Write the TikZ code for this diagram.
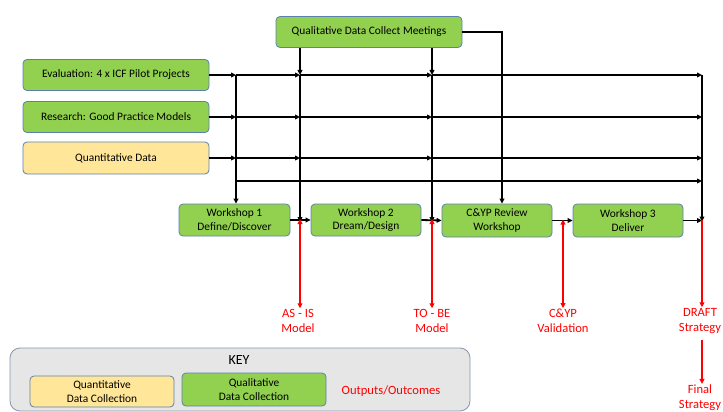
\documentclass[tikz,border=0pt]{standalone}
\usepackage{fontspec}
\setmainfont{Carlito}
\usetikzlibrary{arrows.meta}
\definecolor{boxgreen}{HTML}{92D050}
\definecolor{boxyellow}{HTML}{FFE699}
\definecolor{boxborder}{HTML}{5B80B0}
\definecolor{keygray}{HTML}{E7E6E6}
\definecolor{keyborder}{HTML}{8497B0}
\definecolor{outred}{HTML}{FF0000}
\tikzset{
  base/.style={rounded corners=4pt, draw=boxborder, line width=0.8pt, align=center,
    font=\fontsize{11.4}{13.6}\selectfont, inner sep=0pt},
  greenbox/.style={base, fill=boxgreen},
  yellowbox/.style={base, fill=boxyellow},
  wide/.style={minimum width=186pt, minimum height=31pt},
  wsbox/.style={minimum width=111pt, minimum height=32pt},
  arr/.style={line width=1.8pt, -{Triangle[length=5pt,width=4.8pt]}},
  redarr/.style={line width=1.8pt, draw=outred, -{Triangle[length=5pt,width=4.8pt]}},
  redboth/.style={line width=1.8pt, draw=outred, {Triangle[length=5pt,width=4.8pt]}-{Triangle[length=5pt,width=4.8pt]}},
  outlbl/.style={text=outred, align=center, font=\fontsize{12.6}{14.8}\selectfont, inner sep=1pt}
}
\begin{document}
\begin{tikzpicture}[x=1pt,y=-1pt]
\useasboundingbox (0,0) rectangle (723,412);
% source boxes
\node[greenbox, wide] (top) at (369,32) {Qualitative Data Collect Meetings};
\node[greenbox, wide] (ev) at (116,75) {Evaluation: 4 x ICF Pilot Projects};
\node[greenbox, wide] (rs) at (116,117) {Research: Good Practice Models};
\node[yellowbox, wide, minimum height=32pt] (qd) at (116,158) {Quantitative Data};
% workshops
\node[greenbox, wsbox, minimum width=111pt] (w1) at (234.5,220) {Workshop 1\\Define/Discover};
\node[greenbox, wsbox, minimum width=110pt] (w2) at (366,220) {Workshop 2\\Dream/Design};
\node[greenbox, wsbox, minimum width=110pt, minimum height=33pt] (cy) at (497,220.5) {C\&YP Review\\Workshop};
\node[greenbox, wsbox, minimum width=110pt, minimum height=33pt] (w3) at (628,220.5) {Workshop 3\\Deliver};
% junction coordinates
\foreach \r/\y in {1/75,2/117,3/158}{
  \coordinate (a\r) at (236,\y);
  \coordinate (b\r) at (300,\y);
  \coordinate (c\r) at (432,\y);
  \coordinate (d\r) at (702,\y);
}
\coordinate (a4) at (236,181);
\coordinate (d4) at (702,181);
\coordinate (pB) at (300,220);
\coordinate (pC) at (432,220);
\coordinate (pE) at (563,220.5);
\coordinate (pD) at (702,220.5);
\coordinate (tr) at (502,32);
% horizontal feeds
\draw[arr] (ev.east) -- (a1);
\draw[arr] (rs.east) -- (a2);
\draw[arr] (qd.east) -- (a3);
\foreach \r in {1,2,3}{
  \draw[arr] (a\r) -- (b\r);
  \draw[arr] (b\r) -- (c\r);
  \draw[arr] (c\r) -- (d\r);
}
\draw[arr] (a4) -- (d4);
% verticals
\draw[arr] (a1) -- (a1 |- w1.north);
\draw[arr] (top.south -| b1) -- (b1);
\draw[arr] (b1) -- ([yshift=-2pt]pB);
\draw[arr] (top.south -| c1) -- (c1);
\draw[arr] (c1) -- ([yshift=-2pt]pC);
\draw[arr] (top.east) -- (tr) -- (tr |- cy.north);
\draw[arr] (d1) -- ([yshift=-1pt]pD);
% workshop chain
\draw[arr] (w1.east) -- (w2.west);
\draw[arr] (w2.east) -- (cy.west);
\draw[arr] (cy.east) -- (w3.west);
\draw[arr] (w3.east) -- (pD);
% outputs
\node[outlbl] (asis) at (298,321) {AS - IS\\Model};
\node[outlbl] (tobe) at (432,321) {TO - BE\\Model};
\node[outlbl] (valid) at (563,321) {C\&YP\\Validation};
\node[outlbl] (draft) at (700,321) {DRAFT\\Strategy};
\node[outlbl] (final) at (700,398) {Final\\Strategy};
\draw[redboth] ([yshift=1pt]pB) -- (asis.north -| pB);
\draw[redboth] ([yshift=1pt]pC) -- (tobe.north -| pC);
\draw[redboth] ([yshift=1pt]pE) -- (valid.north -| pE);
\draw[redarr] ([yshift=1pt]pD) -- (draft.north -| pD);
\draw[redarr, shorten <=5pt] (draft.south -| pD) -- (final.north -| pD);
% key
\node[rounded corners=10pt, draw=keyborder, fill=keygray, line width=0.8pt,
      minimum width=460pt, minimum height=63pt, inner sep=0pt] (key) at (240,379.5) {};
\node[font=\fontsize{14}{16}\selectfont, inner sep=0pt] (keylbl) at (239,360) {KEY};
\node[yellowbox, minimum width=144pt, minimum height=31pt] (kq) at (102,391.5) {Quantitative\\Data Collection};
\node[greenbox, minimum width=144pt, minimum height=33pt] (kl) at (254,389.5) {Qualitative\\Data Collection};
\node[outlbl] (kout) at (391,391) {Outputs/Outcomes};
\end{tikzpicture}
\end{document}
